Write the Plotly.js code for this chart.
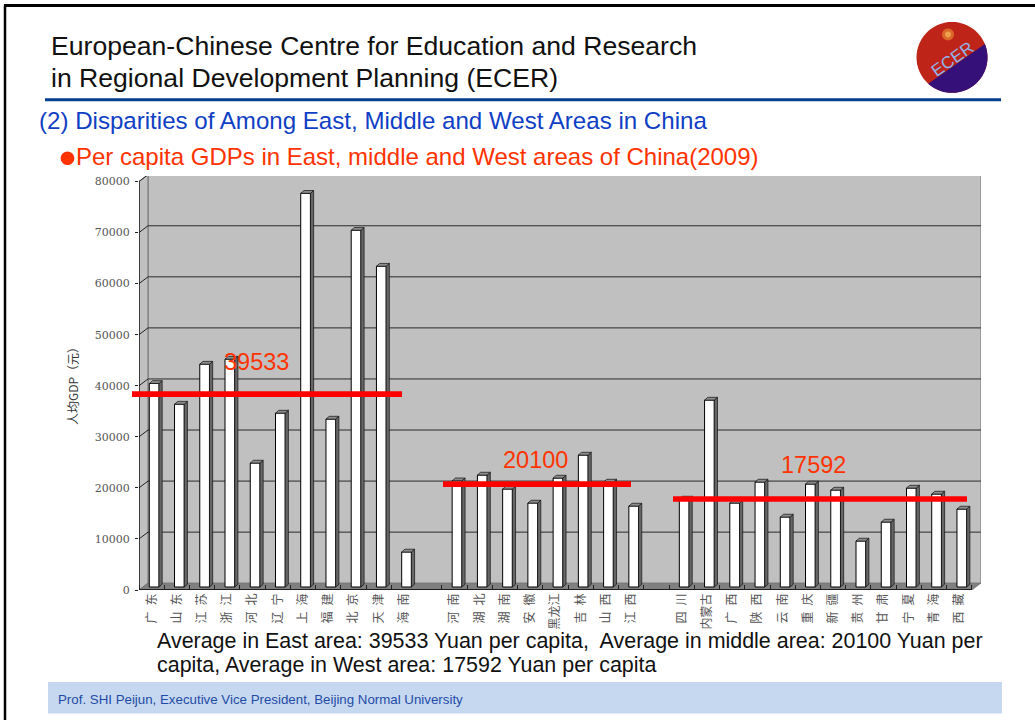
<!DOCTYPE html>
<html>
<head>
<meta charset="utf-8">
<script src="https://cdn.plot.ly/plotly-3.0.1.min.js"></script>
<style>html,body{margin:0;padding:0;background:#fff}</style>
</head>
<body>
<div id="chart" style="width:1035px;height:720px"></div>
<script>
// ---- data ----
var provincesEast = ["广\u2002东","山\u2002东","江\u2002苏","浙\u2002江","河\u2002北","辽\u2002宁","上\u2002海","福\u2002建","北\u2002京","天\u2002津","海\u2002南"];
var gdpEast = [39860,35800,43640,44620,24270,34050,77100,32880,69870,62820,6850];
var provincesMiddle = ["河\u2002南","湖\u2002北","湖\u2002南","安\u2002徽","黑龙江","吉\u2002林","山\u2002西","江\u2002西"];
var gdpMiddle = [20800,21920,19180,16440,21330,25830,20550,15850];
var provincesWest = ["四\u2002川","内蒙古","广\u2002西","陕\u2002西","云\u2002南","重\u2002庆","新\u2002疆","贵\u2002州","甘\u2002肃","宁\u2002夏","青\u2002海","西\u2002藏"];
var gdpWest = [17220,36600,16440,20550,13700,20160,18980,9000,12720,19370,18200,15260];
var yTicks = [0,10000,20000,30000,40000,50000,60000,70000,80000];
var averages = [39533,20100,17592];

// ---- geometry of the pseudo-3D box ----
var L=139, R=981, T=175.7, B=590, W=1035, H=720;
var slotPx=25.24, unitPerPx=195.7;
var depthX=9/slotPx, depthY=6.8*unitPerPx;
var barBase=3*unitPerPx, barW=0.385, barCentre=0.6;
var sideX=3.2/slotPx, sideY=2.8*unitPerPx;
var slots=33;
var xMax=(R-L)/slotPx, yMax=(B-T)*unitPerPx;

function px(x){return (x-L)/(R-L);}
function py(y){return (B-y)/(B-T);}

// slots: East 0-10, gap 11, Middle 12-19, gap 20, West 21-32
var xs=[],vals=[],labels=[];
function addGroup(names,values,start){
  names.forEach(function(n,i){xs.push(start+i+barCentre);vals.push(values[i]);labels.push(n);});
}
addGroup(provincesEast,gdpEast,0);
addGroup(provincesMiddle,gdpMiddle,12);
addGroup(provincesWest,gdpWest,21);

// parallelograms for side and top faces, derived from the values
var sx=[],sy=[],tx=[],ty=[];
xs.forEach(function(c,i){
  var l=c-barW/2,r=c+barW/2,t=barBase+vals[i];
  sx.push(r,r+sideX,r+sideX,r,r,null);
  sy.push(barBase,barBase+sideY,t+sideY,t,barBase,null);
  tx.push(l,l+sideX,r+sideX,r,l,null);
  ty.push(t,t+sideY,t+sideY,t,t,null);
});

var traces=[
 {type:'bar',x:xs,y:vals,base:barBase,width:barW,marker:{color:'#ffffff',line:{color:'#000000',width:1}},hoverinfo:'y',showlegend:false},
 {type:'scatter',mode:'lines',x:sx,y:sy,fill:'toself',fillcolor:'#666666',line:{color:'#111111',width:0.7},hoverinfo:'skip',showlegend:false,cliponaxis:false},
 {type:'scatter',mode:'lines',x:tx,y:ty,fill:'toself',fillcolor:'#8c8c8c',line:{color:'#111111',width:0.7},hoverinfo:'skip',showlegend:false,cliponaxis:false}
];

// ---- walls, floor, gridlines ----
var shapes=[];
function poly(pts,fill,lineColor,lineW,layer,ref){
  var d=pts.map(function(p,i){return (i?'L':'M')+p[0]+','+p[1];}).join(' ')+' Z';
  shapes.push({type:'path',xref:ref?'x':'paper',yref:ref?'y':'paper',path:d,fillcolor:fill,
    line:{color:lineColor||fill,width:lineW===undefined?0:lineW},layer:layer||'below'});
}
function seg(x0,y0,x1,y1,color,w,ref,layer){
  shapes.push({type:'line',xref:ref?'x':'paper',yref:ref?'y':'paper',x0:x0,y0:y0,x1:x1,y1:y1,
    line:{color:color,width:w},layer:layer||'below'});
}
var top80=80000;
// back wall
poly([[depthX,depthY],[slots+depthX,depthY],[slots+depthX,top80+depthY],[depthX,top80+depthY]],'#c0c0c0','#808080',1,'below',true);
// left wall
poly([[0,0],[depthX,depthY],[depthX,top80+depthY],[0,top80]],'#c0c0c0','#707070',1,'below',true);
// floor
poly([[0,0],[slots,0],[slots+depthX,depthY],[depthX,depthY]],'#808080','#606060',0.5,'below',true);
// gridlines on back and left walls
yTicks.forEach(function(v){
  if(v>0) seg(depthX,v+depthY,slots+depthX,v+depthY,'#2a2a2a',1,true);
  if(v>0) seg(0,v,depthX,v+depthY,'#222222',1,true);
});
// front axis lines
seg(0,0,0,top80,'#000000',1.2,true);
seg(0,0,slots,0,'#000000',1.5,true);

// ---- page furniture ----
seg(px(4),py(5),px(W),py(5),'#000000',3,false,'above');
seg(px(5),py(5),px(5),py(H),'#000000',2.5,false,'above');
seg(px(45),py(99.5),px(1001),py(99.5),'#003f8f',3,false,'above');
poly([[px(48),py(682)],[px(1002),py(682)],[px(1002),py(713.5)],[px(48),py(713.5)]],'#c6d8ef',null,0,'below');

// hand-drawn average bars
[[132,402,394],[443,631,484],[673,967,499]].forEach(function(r){
  seg(px(r[0]),py(r[2]),px(r[1]),py(r[2]),'#ff0000',5.6,false,'above');
});

// round shapes: logo and bullet
function arc(cx,cy,r,a0,a1,n){
  var out=[];for(var i=0;i<=n;i++){var a=(a0+(a1-a0)*i/n)*Math.PI/180;
    out.push([px(cx+r*Math.cos(a)),py(cy+r*Math.sin(a))]);}
  return out;
}
poly(arc(952,57,35.5,0,360,60),'#bf2418',null,0,'above');
poly(arc(952,57,35.5,-22,132,40),'#341078',null,0,'above');
poly(arc(948,34,6,0,360,20),'#d9682a',null,0,'above');
poly(arc(948,34,3,0,360,16),'#eea04a',null,0,'above');
poly(arc(67.5,158,6.8,0,360,32),'#ff3300',null,0,'above');

// ---- text ----
function note(text,x,y,size,color,extra){
  var a={text:text,xref:'paper',yref:'paper',x:px(x),y:py(y),xanchor:'left',yanchor:'middle',showarrow:false,
    font:{family:'"Liberation Sans",Arial,sans-serif',size:size,color:color},align:'left',borderpad:0,borderwidth:0};
  if(extra) for(var k in extra) a[k]=extra[k];
  return a;
}
var annotations=[
 note('European-Chinese Centre for Education and Research',51,46,26.6,'#111111'),
 note('in Regional Development Planning (ECER)',51,78,26.6,'#111111'),
 note('(2) Disparities of Among East, Middle and West Areas in China',39,120.2,24.1,'#0f3fc4'),
 note('Per capita GDPs in East, middle and West areas of China(2009)',76,156.2,24,'#ff3300'),
 note(String(averages[0]),224,362,23.5,'#ff3300'),
 note(String(averages[1]),503,460,23.5,'#ff3300'),
 note(String(averages[2]),781,465,23.5,'#ff3300'),
 note('Average in East area: '+averages[0]+' Yuan per capita,  Average in middle area: '+averages[1]+' Yuan per',157,641,21.45,'#111111'),
 note('capita, Average in West area: '+averages[2]+' Yuan per capita',157,665,21.45,'#111111'),
 note('Prof. SHI Peijun, Executive Vice President, Beijing Normal University',58,699.5,13.3,'#1f4ba8'),
 note('ECER',952,59,17,'#8fb2ea',{xanchor:'center',textangle:-35})
];

// slot boundaries for ticks
var edges=[];for(var i=0;i<=slots;i++){ if(i!==11) edges.push(i); }

var layout={
 width:W,height:H,autosize:false,
 margin:{l:L,r:W-R,t:T,b:H-B,pad:0},
 paper_bgcolor:'#ffffff',plot_bgcolor:'rgba(0,0,0,0)',
 showlegend:false,bargap:0,
 xaxis:{range:[0,xMax],tickmode:'array',tickvals:xs.map(function(c){return c-0.1;}),ticktext:labels,tickangle:-90,
   ticks:'',showgrid:false,zeroline:false,showline:false,fixedrange:true,
   tickfont:{family:'"Noto Sans CJK SC","DejaVu Serif",serif',size:12,color:'#555555'},
   minor:{tickmode:'array',tickvals:edges,ticks:'inside',ticklen:5,tickcolor:'#222222',tickwidth:1,showgrid:false}},
 yaxis:{range:[0,yMax],tickmode:'array',tickvals:yTicks,ticktext:yTicks.map(String),
   ticks:'outside',ticklen:3,tickcolor:'#222222',ticklabelstandoff:3,showgrid:false,zeroline:false,showline:false,fixedrange:true,
   tickfont:{family:'"DejaVu Serif",serif',size:11,color:'#555555'},
   title:{text:'人均GDP（元）',standoff:13,font:{family:'"Noto Sans CJK SC","DejaVu Serif",serif',size:12,color:'#333333'}}},
 shapes:shapes,annotations:annotations
};
Plotly.newPlot('chart',traces,layout,{displayModeBar:false,staticPlot:true});
</script>
</body>
</html>
